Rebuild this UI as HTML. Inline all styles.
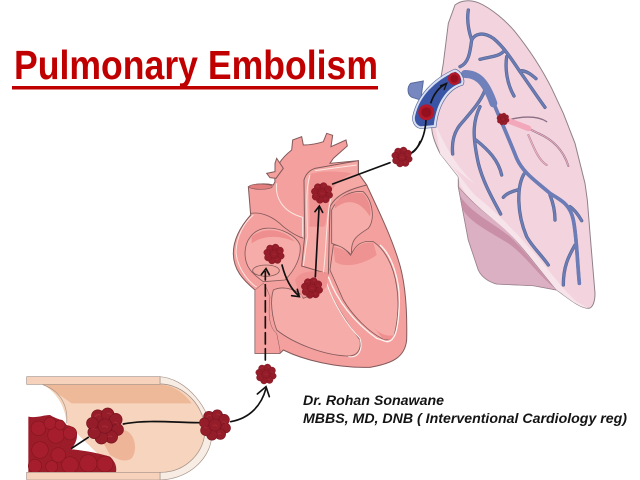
<!DOCTYPE html>
<html><head><meta charset="utf-8"><style>html,body{margin:0;padding:0;background:#fff}svg{display:block}</style></head>
<body>
<svg width="640" height="480" viewBox="0 0 640 480" xmlns="http://www.w3.org/2000/svg">
<defs>
<g id="clot">
<circle cx="0" cy="0" r="17.500" fill="#8a1824"/>
<g fill="#951d2a" stroke="#7a1420" stroke-width=".8">
<circle cx="-8" cy="-11" r="7"/><circle cx="3" cy="-13" r="7"/><circle cx="12" cy="-7" r="7"/><circle cx="14" cy="4" r="6.500"/><circle cx="7" cy="12" r="7"/><circle cx="-4" cy="13" r="7"/><circle cx="-12" cy="7" r="7"/><circle cx="-14" cy="-3" r="6.500"/><circle cx="0" cy="0" r="8"/>
</g>
<g fill="none" stroke="#b7343f" stroke-width="1.200" opacity=".6">
<path d="M-11-10a4 4 0 0 1 6-2M2-14a4 4 0 0 1 5 2M10-4a4 4 0 0 1 5 3M-3 1a4 4 0 0 1 6 1M-15 4a4 4 0 0 1 5 0M3 12a4 4 0 0 1 5 0"/>
</g>
</g>
</defs>

<!-- Title -->
<text x="14" y="79" font-family="'Liberation Sans',sans-serif" font-weight="700" font-size="41" fill="#c00000" textLength="364" lengthAdjust="spacingAndGlyphs">Pulmonary Embolism</text>
<rect x="12" y="86" width="366" height="3.500" fill="#c00000"/>

<!-- Lung -->
<g transform="translate(400,0) scale(.33333)">
<path d="M165 15C180 3 205-3 235 8C275 25 320 65 345 95C385 145 425 205 455 265L490 340L525 430L555 550L562 600L570 700L585 880C585 905 578 925 565 925C540 925 505 895 470 870L400 857L290 852C265 845 245 830 235 810L205 720L175 560V530L120 460C105 430 95 400 95 380L110 310L130 190L145 70Z" fill="#f3d4de" stroke="#8f8189" stroke-width="3"/>
<path d="M175 560C200 590 230 620 290 665C340 700 400 790 470 870L400 857L290 852C265 845 245 830 235 810L205 720Z" fill="#dbb0c2" stroke="#a0838f" stroke-width="2"/>
<path d="M182 590C215 640 280 670 330 710C375 750 420 820 470 870C410 820 375 765 325 730C270 695 205 665 187 625Z" fill="#c98fa6"/>
<path d="M120 460C165 500 190 550 230 590C300 645 370 720 420 780C450 815 490 870 530 905L565 925C530 920 500 890 470 870C420 810 365 730 300 675C240 625 180 580 175 530Z" fill="#f7e4ea"/>
<path d="M105 370C135 440 175 510 230 555C195 530 140 490 120 460Z" fill="#f7e4ea"/>
<g fill="none" stroke-linecap="round" stroke-linejoin="round">
<g stroke="#55648f" stroke-width="10">
<path d="M205 30C200 60 205 90 215 120C225 100 250 95 280 115C310 140 330 170 360 215C385 250 415 295 435 322"/>
<path d="M215 120C210 160 205 190 180 200"/>
<path d="M240 178C270 170 295 170 310 155"/>
<path d="M320 170C315 205 320 250 342 288"/>
<path d="M365 212C385 215 395 225 408 236"/>
<path d="M190 225C230 225 255 250 275 295C295 345 320 400 350 475C370 520 410 545 450 580C480 600 510 610 520 660C530 710 530 760 538 850"/>
<path d="M255 270C240 310 205 345 180 375C160 400 155 430 158 462"/>
<path d="M240 320C215 370 220 420 235 490C250 550 280 600 302 642"/>
<path d="M228 420C265 450 295 480 305 525"/>
<path d="M372 522C350 560 350 640 380 710C400 745 425 765 445 795"/>
<path d="M352 570C335 575 320 580 310 592"/>
<path d="M450 585C460 610 465 635 465 660"/>
<path d="M510 620C525 630 535 645 545 662"/>
<path d="M525 735C505 770 490 800 490 855"/>
</g>
<g stroke="#6b7cb6" stroke-width="6.500">
<path d="M205 30C200 60 205 90 215 120C225 100 250 95 280 115C310 140 330 170 360 215C385 250 415 295 435 322"/>
<path d="M215 120C210 160 205 190 180 200"/>
<path d="M240 178C270 170 295 170 310 155"/>
<path d="M320 170C315 205 320 250 342 288"/>
<path d="M365 212C385 215 395 225 408 236"/>
<path d="M255 270C240 310 205 345 180 375C160 400 155 430 158 462"/>
<path d="M240 320C215 370 220 420 235 490C250 550 280 600 302 642"/>
<path d="M228 420C265 450 295 480 305 525"/>
<path d="M372 522C350 560 350 640 380 710C400 745 425 765 445 795"/>
<path d="M352 570C335 575 320 580 310 592"/>
<path d="M450 585C460 610 465 635 465 660"/>
<path d="M510 620C525 630 535 645 545 662"/>
<path d="M525 735C505 770 490 800 490 855"/>
</g>
<path d="M190 225C230 225 255 250 275 295C295 345 320 400 350 475C370 520 410 545 450 580C480 600 510 610 520 660C530 710 530 760 538 850" stroke="#6b7cb6" stroke-width="11"/>
<path d="M195 222C230 222 255 240 280 310" stroke="#6f80bb" stroke-width="24"/>
<path d="M320 360C345 365 385 385 415 400C460 420 490 450 505 498" stroke="#8a6f85" stroke-width="6"/>
<path d="M320 360C345 365 385 385 415 400C460 420 490 450 505 498" stroke="#f0aebf" stroke-width="3"/>
<path d="M325 360C360 350 410 345 440 365" stroke="#8a6f85" stroke-width="4"/>
<path d="M385 405C400 440 415 480 440 495" stroke="#a87f92" stroke-width="6"/>
<path d="M385 405C400 440 415 480 440 495" stroke="#f3b5c5" stroke-width="3"/>
<path d="M325 362L385 385" stroke="#f3a7bb" stroke-width="17"/>
</g>
<path d="M70 243L32 250C20 262 22 285 36 292L62 300Z" fill="#7788c0" stroke="#586a9d" stroke-width="3"/>
<path d="M43 345C55 290 100 240 165 212C180 216 192 240 185 252C150 262 112 300 104 378L62 382C46 378 38 362 43 345Z" fill="#3a55a5" stroke="#d8e0f2" stroke-width="6"/>
<path d="M39 345C52 288 98 236 165 207C183 211 198 240 189 255C153 265 116 303 108 382L62 386C42 382 34 362 39 345Z" fill="none" stroke="#5a6a9d" stroke-width="2"/>
<circle cx="163" cy="236" r="19" fill="#b3182b"/><circle cx="163" cy="236" r="12" fill="#94101f"/>
<circle cx="79" cy="337" r="24" fill="#b3182b"/><circle cx="79" cy="337" r="15" fill="#94101f"/>
<path d="M92 310C100 285 115 262 140 250" fill="none" stroke="#111" stroke-width="5"/>
<path d="M120 258L140 250L132 270" fill="none" stroke="#111" stroke-width="4"/>
<path d="M78 360C75 410 60 440 35 458" fill="none" stroke="#111" stroke-width="5"/>
</g>
<use href="#clot" transform="translate(503,119) scale(.3)"/>

<!-- Heart -->
<g transform="translate(220,130) scale(.33333)">
<path d="M165 155C160 110 190 80 215 60L218 30L245 20L250 45C275 45 295 40 310 35L320 10L338 16L333 50L378 30L382 48L340 85L330 100L415 92L415 130L440 165C470 230 510 310 535 390C555 450 562 540 560 630C555 680 520 700 450 712C350 715 250 690 190 660L180 670H105V480C70 450 40 420 40 370C40 320 70 280 92 255L85 170C105 160 140 160 160 165L165 155Z" fill="#f4a09e" stroke="#82595a" stroke-width="3"/>
<path d="M165 125L140 130L150 143L168 145L190 115L170 85L165 100Z" fill="#f4a09c" stroke="#82595a" stroke-width="3"/>
<ellipse cx="122" cy="170" rx="35" ry="8" fill="#e27e7e" stroke="#82595a" stroke-width="2"/>
<path d="M170 160C165 200 185 245 248 262V320" fill="none" stroke="#fbe6e0" stroke-width="3"/>
<path d="M100 255C70 280 50 320 48 365C50 420 100 470 110 470" fill="none" stroke="#fbe6e0" stroke-width="3"/>
<path d="M92 250C125 245 160 260 190 290C215 310 235 320 250 325" fill="none" stroke="#82595a" stroke-width="2.500"/>
<path d="M75 370C75 330 100 300 135 295C185 290 230 320 240 345C245 380 225 420 195 450L130 455C95 430 75 410 75 370Z" fill="#f6aca8" stroke="#82595a" stroke-width="2.500"/>
<path d="M95 320C130 290 190 295 225 335C180 315 130 315 95 340Z" fill="#ee8e8e"/>
<ellipse cx="138" cy="422" rx="40" ry="17" fill="#f4a8a2" stroke="#82595a" stroke-width="2.500"/>
<path d="M252 150C258 130 270 120 285 115L415 92V130L440 165C400 175 350 190 330 230L325 432L245 408L254 320Z" fill="#f6a8a5" stroke="#82595a" stroke-width="3"/>
<path d="M285 122L410 105M270 135C255 180 262 250 262 320L250 408M335 195C318 260 320 350 310 430" fill="none" stroke="#fbe6e0" stroke-width="3"/>
<path d="M272 132C310 120 370 125 395 130C360 150 340 165 330 195C320 250 320 280 312 290L268 290C272 230 262 170 272 132Z" fill="#ee8a8c" opacity=".7"/>
<path d="M335 240C350 205 390 180 430 185C460 215 465 270 445 295C415 315 390 325 395 375C375 355 350 345 335 340Z" fill="#f6aca8" stroke="#82595a" stroke-width="2.500"/>
<path d="M345 220C365 195 400 185 430 190C450 215 455 240 450 260C420 210 380 205 345 235Z" fill="#ec8e8e"/>
<path d="M340 345C365 345 385 365 392 378C405 345 425 330 460 335C490 355 520 400 530 470C540 530 530 590 520 625L495 630C450 610 400 560 370 510L330 420Z" fill="#f6aca8" stroke="#82595a" stroke-width="2.500"/>
<path d="M340 350C370 355 385 370 392 378C410 345 430 335 460 338L470 375C430 405 370 415 345 395Z" fill="#ee9392"/>
<path d="M460 590C475 610 500 622 525 615L515 628L490 628Z" fill="#ef8f90"/>
<path d="M325 440C350 510 400 575 470 625L500 635C525 635 535 600 538 520C540 460 520 380 480 345" fill="none" stroke="#fdf4ef" stroke-width="4"/>
<path d="M160 480C190 465 240 480 250 505C285 490 310 480 320 460C340 520 390 590 420 630C425 660 410 680 380 678C310 675 220 640 170 600C155 560 150 510 160 480Z" fill="#f6aca8" stroke="#82595a" stroke-width="2.500"/>
<path d="M320 460C340 520 385 590 420 625C430 660 415 685 385 680" fill="none" stroke="#fdf4ef" stroke-width="3"/>
<path d="M225 450C240 420 285 420 325 430L320 470C305 490 275 500 245 500C235 480 228 465 225 450Z" fill="#ee9392"/>
<path d="M105 480L130 460C140 470 145 490 150 500C145 550 145 590 170 610L180 660V670H105Z" fill="#f4a09e" stroke="#82595a" stroke-width="1.500"/>
<g fill="none" stroke="#111" stroke-linecap="round">
<path d="M136 690L136 425" stroke-width="5" stroke-dasharray="34 14"/>
<path d="M124 434L138 416L148 434" stroke-width="5"/>
<path d="M186 405C195 440 210 475 236 497" stroke-width="5"/>
<path d="M215 497L238 500L232 478" stroke-width="5"/>
<path d="M286 440L297 235" stroke-width="5"/>
<path d="M285 245L298 228L308 247" stroke-width="5"/>
<path d="M338 162L510 98" stroke-width="5"/>
<path d="M572 70C585 65 595 50 600 35" stroke-width="5"/>
</g>
</g>
<use href="#clot" transform="translate(274,254) scale(.5)"/>
<use href="#clot" transform="translate(312,288) scale(.52)"/>
<use href="#clot" transform="translate(322,193) scale(.52)"/>
<use href="#clot" transform="translate(402,157) scale(.5)"/>

<!-- Vessel -->
<g transform="translate(20,360) scale(.33333)">
<path d="M420 50C500 55 575 150 575 225C575 290 510 358 420 360V337C495 337 555 280 555 205C550 135 490 72 420 72Z" fill="#f8ede5" stroke="#a79388" stroke-width="2"/>
<path d="M68 74H420C490 72 550 135 555 205C555 280 495 337 420 337H290L140 190C135 130 100 90 68 74Z" fill="#f6d4bd"/>
<path d="M68 74H420C455 75 490 95 515 130H155C125 110 100 90 68 74Z" fill="#eeb998"/>
<path d="M310 210C345 215 355 270 335 295C315 308 295 300 270 285L240 230Z" fill="#eeb599"/>
<path d="M68 74C115 90 145 130 140 190" fill="none" stroke="#a79388" stroke-width="2"/>
<path d="M420 72C490 72 550 135 555 205C555 280 495 337 420 337" fill="none" stroke="#a79388" stroke-width="2"/>
<rect x="20" y="50" width="400" height="23" fill="#f6d2bd" stroke="#a79388" stroke-width="2"/>
<path d="M25 170C50 175 70 165 90 165C110 178 130 178 140 195C170 200 178 225 165 250L155 268C185 270 240 280 270 290C290 310 290 325 288 338H25Z" fill="#9c1c2a"/>
<g fill="#a61e2d" stroke="#86151f" stroke-width="2">
<circle cx="55" cy="205" r="22"/><circle cx="108" cy="225" r="25"/><circle cx="150" cy="220" r="20"/><circle cx="60" cy="270" r="25"/><circle cx="115" cy="285" r="22"/><circle cx="45" cy="318" r="20"/><circle cx="95" cy="320" r="18"/><circle cx="150" cy="315" r="25"/><circle cx="205" cy="310" r="26"/><circle cx="255" cy="312" r="24"/><circle cx="90" cy="190" r="18"/><circle cx="120" cy="195" r="15"/>
</g>
<rect x="20" y="337" width="400" height="23" fill="#f6d2bd" stroke="#a79388" stroke-width="2"/>
<g fill="none" stroke="#111" stroke-width="5" stroke-linecap="round">
<path d="M155 265L205 232"/>
<path d="M310 192C380 178 470 188 540 188"/>
<path d="M632 185C690 175 725 135 738 85"/>
<path d="M712 102L738 80L748 110"/>
</g>
</g>
<use href="#clot" transform="translate(105,426) scale(.9)"/>
<use href="#clot" transform="translate(215,425) scale(.76)"/>
<use href="#clot" transform="translate(266,374) scale(.5)"/>

<!-- Text -->
<g font-family="'Liberation Sans',sans-serif" font-weight="700" font-style="italic" font-size="13.500" fill="#141414">
<text x="303" y="405" textLength="141" lengthAdjust="spacingAndGlyphs">Dr. Rohan Sonawane</text>
<text x="303" y="423" textLength="324" lengthAdjust="spacingAndGlyphs">MBBS, MD, DNB ( Interventional Cardiology reg)</text>
</g>
</svg>
</body></html>
